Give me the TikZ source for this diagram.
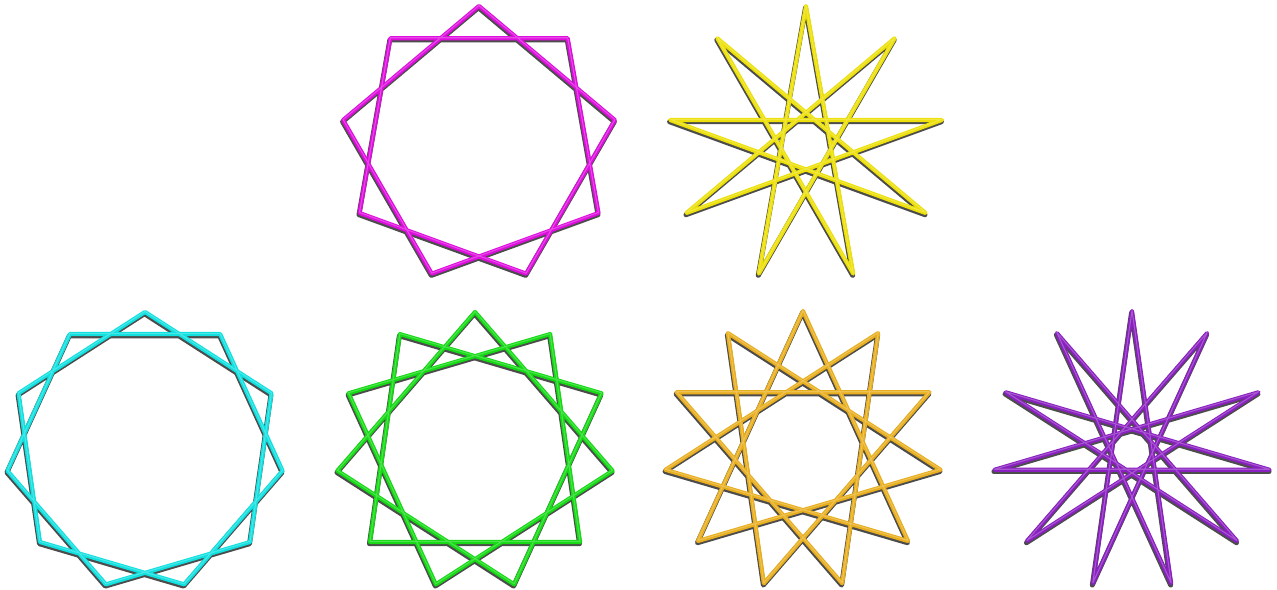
\documentclass[tikz,border=0pt]{standalone}
\definecolor{starmagenta}{RGB}{222,14,222}
\definecolor{staryellow}{RGB}{236,224,8}
\definecolor{starcyan}{RGB}{16,224,224}
\definecolor{stargreen}{RGB}{20,218,20}
\definecolor{starorange}{RGB}{232,174,30}
\definecolor{starpurple}{RGB}{138,32,192}
\usetikzlibrary{calc}

\begin{document}
\begin{tikzpicture}[x=0.02cm,y=0.02cm,line join=round,line cap=round,
  starshadow/.style={draw=black,opacity=0.7,line width=2.8pt,transform canvas={xshift=-0.3pt,yshift=-1pt}},
  starshine/.style={draw=white,opacity=0.25,line width=0.6pt,transform canvas={yshift=0.3pt}},
  starline/.style={draw=#1,line width=2.35pt,preaction={starshadow},postaction={starshine}}]
  \useasboundingbox (0,0) rectangle (1277,590);
  % {n/k} star polygons: centre x/y, radius, n, k, colour
  \foreach \px/\py/\r/\n/\k/\clr in {479/446/138/9/2/starmagenta, 806/446/138/9/4/staryellow,
      145/139/139/11/2/starcyan, 475/139/139/11/3/stargreen,
      803/140/139/11/4/starorange, 1132/140/139/11/5/starpurple}{
    \pgfmathtruncatemacro{\last}{\n-1}
    \begin{scope}[shift={(\px,\py)}]
      \draw[starline=\clr] (90:\r)
        \foreach \j in {1,...,\last}{ -- ({90-360*mod(\j*\k,\n)/\n}:\r) } -- cycle;
    \end{scope}
  }
\end{tikzpicture}
\end{document}
